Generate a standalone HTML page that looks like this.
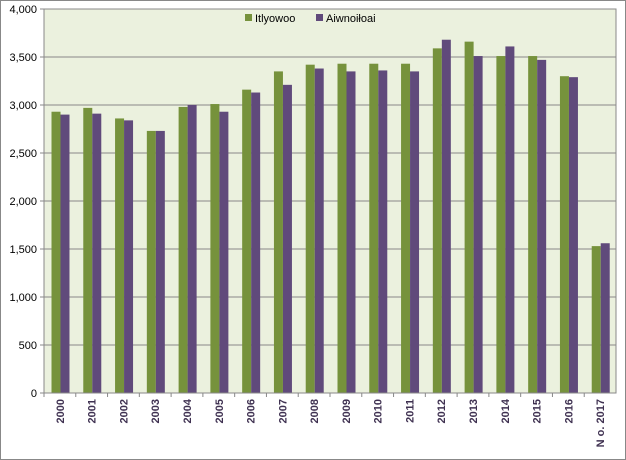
<!DOCTYPE html>
<html><head><meta charset="utf-8"><style>
body{margin:0;background:#fff;}
svg{display:block;font-family:"Liberation Sans",sans-serif;}
</style></head><body>
<svg id="c" width="626" height="460">
<rect x="0.5" y="0.5" width="625" height="459" fill="#fff" stroke="#888"/>
</svg>
<script>
const categories=["2000","2001","2002","2003","2004","2005","2006","2007","2008","2009","2010","2011","2012","2013","2014","2015","2016","N o. 2017"];
const series1=[2930,2970,2860,2730,2980,3010,3160,3350,3420,3430,3430,3430,3590,3660,3510,3510,3300,1530];
const series2=[2900,2910,2840,2730,3000,2930,3130,3210,3380,3350,3360,3350,3680,3510,3610,3470,3290,1560];
const ticks=[0,500,1000,1500,2000,2500,3000,3500,4000];
const tickLabels=["0","500","1,000","1,500","2,000","2,500","3,000","3,500","4,000"];
const seriesNames=["Itlyowoo","Aiwnoiłoai"];
const colors=["#76923c","#604a7b"];
const svg=document.getElementById('c');const NS="http://www.w3.org/2000/svg";
const X0=44,X1=616,Y0=393,Y1=9,MAX=4000;
const gw=(X1-X0)/categories.length;
const y=v=>Y0-(v/MAX)*(Y0-Y1);
function mk(t,a,p){const e=document.createElementNS(NS,t);for(const k in a)e.setAttribute(k,a[k]);(p||svg).appendChild(e);return e;}
const bg=mk('rect',{x:X0,y:Y1,width:X1-X0,height:Y0-Y1,fill:"#ebf1de",stroke:"#888"});


ticks.forEach((t,i)=>{
 if(t>0){const g=mk('line',{x1:X0,x2:X1,y1:y(t),y2:y(t),stroke:"#888","stroke-width":1});
 
 }
 const tk=mk('line',{x1:X0-4,x2:X0,y1:y(t),y2:y(t),stroke:"#888"});
 
 
 const l=mk('text',{x:X0-7,y:y(t)+4,"text-anchor":"end","font-size":11,fill:"#000"});l.textContent=tickLabels[i];
 
 
});
categories.forEach((c,i)=>{
 const gx=X0+i*gw;
 [series1[i],series2[i]].forEach((v,j)=>{
  const r=mk('rect',{x:gx+7.5+j*9,y:y(v),width:9,height:Y0-y(v),fill:colors[j]});
  
  
 });
 const tk=mk('line',{x1:gx,x2:gx,y1:Y0,y2:Y0+4,stroke:"#888"});
 
 
 const cx=gx+gw/2+4;
 const t=mk('text',{x:cx,y:Y0+6,"text-anchor":"end","font-size":11,"font-weight":"bold",fill:"#3f3151",transform:`rotate(-90 ${cx} ${Y0+6})`});
 t.textContent=c;
 
 
});
const ax=mk('line',{x1:X0,x2:X1,y1:Y0,y2:Y0,stroke:"#888"});


const lx=[245,316];
seriesNames.forEach((n,j)=>{
 const s=mk('rect',{x:lx[j],y:14,width:7,height:7,fill:colors[j]});
 
 
 const t=mk('text',{x:lx[j]+10,y:22,"font-size":11,fill:"#000"});t.textContent=n;
 
 
});
</script>
</body></html>
